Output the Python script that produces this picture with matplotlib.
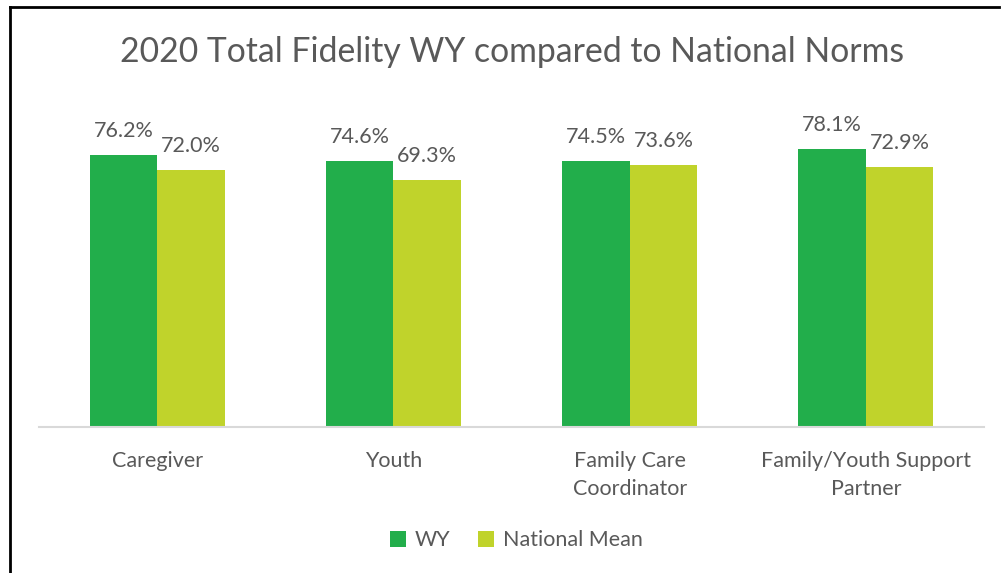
import numpy as np
import matplotlib.pyplot as plt
from matplotlib.lines import Line2D

categories = ['Caregiver', 'Youth', 'Family Care\nCoordinator', 'Family/Youth Support\nPartner']
wy = [76.2, 74.6, 74.5, 78.1]
national = [72.0, 69.3, 73.6, 72.9]

plt.rcParams['font.family'] = ['Lato', 'DejaVu Sans']
txt = '#595959'
green = '#22AE4B'
lime = '#C0D32B'

fig = plt.figure(figsize=(10.02, 5.73), dpi=100)
ax = fig.add_axes([0.039, 0.2548, 0.943, 0.56])

x = np.arange(len(categories))
w = 0.286
b1 = ax.bar(x - w / 2, wy, w, color=green, label='WY')
b2 = ax.bar(x + w / 2, national, w, color=lime, label='National Mean')

for bars in (b1, b2):
    for r in bars:
        ax.annotate(f'{r.get_height():.1f}%', (r.get_x() + r.get_width() / 2, r.get_height()),
                    xytext=(0, 10), textcoords='offset points', ha='center', va='bottom',
                    fontsize=15.5, color=txt)

ax.set_xlim(-0.5, 3.5)
ax.set_ylim(0, 90)
ax.set_yticks([])
ax.set_xticks(x)
ax.set_xticklabels(categories, fontsize=15.5, color=txt, linespacing=1.55)
ax.tick_params(axis='x', length=0, pad=17)
for s in ['top', 'right', 'left']:
    ax.spines[s].set_visible(False)
ax.spines['bottom'].set_color('#D9D9D9')
ax.spines['bottom'].set_linewidth(1.5)

fig.text(0.511, 0.91, '2020 Total Fidelity WY compared to National Norms',
         ha='center', va='center', fontsize=24.3, color=txt)

leg = fig.legend(loc='center', bbox_to_anchor=(0.515, 0.057), ncol=2, frameon=False,
                 fontsize=15.5, handlelength=0.75, handleheight=0.75, handletextpad=0.4,
                 columnspacing=1.3)
for t in leg.get_texts():
    t.set_color(txt)

# frame lines at left and top
fig.add_artist(Line2D([0.0098, 0.0098], [0, 0.988], color='black', lw=2, transform=fig.transFigure))
fig.add_artist(Line2D([0.0098, 0.997], [0.988, 0.988], color='black', lw=2, transform=fig.transFigure))

fig.savefig('out.png', dpi=100)
